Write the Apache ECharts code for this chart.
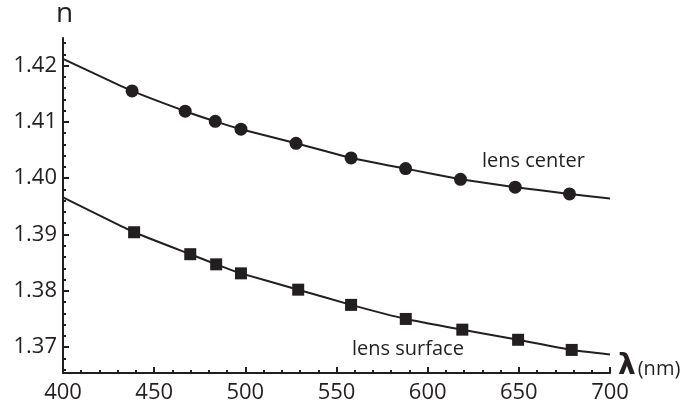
<!DOCTYPE html>
<html>
<head>
<meta charset="utf-8">
<script src="https://cdn.jsdelivr.net/npm/echarts@6/dist/echarts.min.js"></script>
<style>html,body{margin:0;padding:0;background:#fff}#c{width:693px;height:413px}</style>
</head>
<body>
<div id="c"></div>
<script>
// Measured data (wavelength nm, refractive index)
var centerX = [437.9, 467, 483.5, 497.6, 527.8, 558, 587.9, 618, 648, 677.8];
var centerN = [1.4155, 1.4119, 1.4101, 1.4087, 1.4062, 1.4036, 1.4017, 1.3998, 1.3984, 1.3972];
var surfaceX = [439, 469.8, 484, 497.6, 529, 558, 588, 619, 649.6, 679];
var surfaceN = [1.3904, 1.3865, 1.3847, 1.3831, 1.3802, 1.3775, 1.3750, 1.3731, 1.3713, 1.3695];
// Fitted curve end points
var centerCurveEnds = [[400, 1.4212], [700, 1.3964]];
var surfaceCurveEnds = [[400, 1.3966], [700, 1.3687]];
// Axis ticks
var xTicks = [400, 450, 500, 550, 600, 650, 700];
var yTicks = [1.37, 1.38, 1.39, 1.40, 1.41, 1.42];
var yMinorTicks = [1.366, 1.368, 1.372, 1.374, 1.376, 1.378, 1.382, 1.384, 1.386, 1.388,
  1.392, 1.394, 1.396, 1.398, 1.402, 1.404, 1.406, 1.408, 1.412, 1.414, 1.416, 1.418, 1.422, 1.424];
var yMin = 1.3654, yMax = 1.4249;

function pairs(xs, ys) { return xs.map(function (x, i) { return [x, ys[i]]; }); }
function curve(xs, ys, ends) { return [ends[0]].concat(pairs(xs, ys)).concat([ends[1]]); }

var ink = '#231f20';
var font = 'Open Sans';
var chart = echarts.init(document.getElementById('c'));
chart.setOption({
  animation: false,
  grid: { left: 63, right: 83, top: 38, bottom: 40 },
  xAxis: {
    type: 'value', min: 400, max: 700, interval: 50,
    axisLine: { show: true, onZero: false, lineStyle: { color: ink, width: 2 } },
    axisTick: { show: true, inside: true, length: 6, lineStyle: { color: ink, width: 2 } },
    minorTick: { show: true, splitNumber: 5, length: 3, lineStyle: { color: ink, width: 2 } },
    splitLine: { show: false },
    axisLabel: { color: ink, fontFamily: font, fontSize: 22, margin: 9,
      customValues: xTicks }
  },
  yAxis: [{
    type: 'value', min: yMin, max: yMax,
    axisLine: { show: true, onZero: false, lineStyle: { color: ink, width: 2 } },
    axisTick: { show: true, inside: true, length: 6, lineStyle: { color: ink, width: 2 }, customValues: yTicks },
    splitLine: { show: false },
    axisLabel: { color: ink, fontFamily: font, fontSize: 22, margin: 6, customValues: yTicks,
      formatter: function (v) { return v.toFixed(2); } }
  }, {
    type: 'value', min: yMin, max: yMax, position: 'left', offset: 0,
    axisLine: { show: false },
    axisTick: { show: true, inside: true, length: 3, lineStyle: { color: ink, width: 2 }, customValues: yMinorTicks },
    splitLine: { show: false },
    axisLabel: { show: false }
  }],
  series: [
    { type: 'line', data: curve(centerX, centerN, centerCurveEnds), smooth: 0.12,
      showSymbol: false, lineStyle: { color: ink, width: 2 }, z: 2 },
    { type: 'line', data: curve(surfaceX, surfaceN, surfaceCurveEnds), smooth: 0.12,
      showSymbol: false, lineStyle: { color: ink, width: 2 }, z: 2 },
    { type: 'scatter', data: pairs(centerX, centerN), symbol: 'circle', symbolSize: 13,
      itemStyle: { color: ink, opacity: 1 }, z: 3 },
    { type: 'scatter', data: pairs(surfaceX, surfaceN), symbol: 'rect', symbolSize: 12,
      itemStyle: { color: ink, opacity: 1 }, z: 3 }
  ],
  graphic: [
    { type: 'text', left: 56, top: 0, style: { text: 'n', fill: ink, font: '28px "Open Sans"' } },
    { type: 'text', left: 482, top: 151, style: { text: 'lens center', fill: ink, font: '20px "Open Sans"' } },
    { type: 'text', left: 352, top: 339, style: { text: 'lens surface', fill: ink, font: '20px "Open Sans"' } },
    { type: 'text', left: 618, top: 353, style: {
      text: '{l|λ}{u|(nm)}', fill: ink,
      rich: {
        l: { fontFamily: 'DejaVu Sans', fontWeight: 'bold', fontSize: 28, fill: ink, padding: [0, 2, 0, 0] },
        u: { fontFamily: font, fontSize: 20, fill: ink, padding: [4, 0, 0, 0] }
      } } }
  ]
});
</script>
</body>
</html>
